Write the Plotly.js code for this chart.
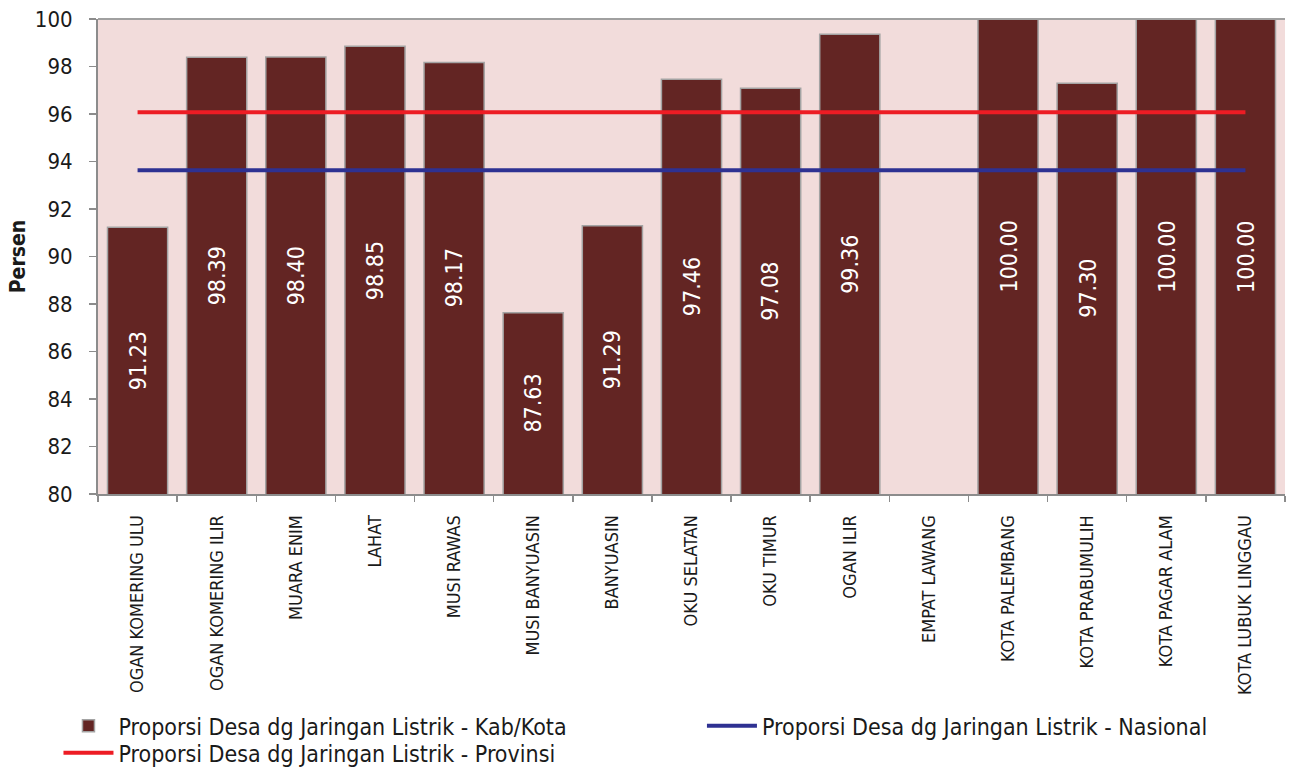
<!DOCTYPE html>
<html>
<head>
<meta charset="utf-8">
<script src="https://cdn.plot.ly/plotly-3.0.1.min.js"></script>
<style>html,body{margin:0;padding:0;background:#fff;}#chart{width:1290px;height:769px;}</style>
</head>
<body>
<div id="chart"></div>
<script>
const categories = ["OGAN KOMERING ULU","OGAN KOMERING ILIR","MUARA ENIM","LAHAT","MUSI RAWAS","MUSI BANYUASIN","BANYUASIN","OKU SELATAN","OKU TIMUR","OGAN ILIR","EMPAT LAWANG","KOTA PALEMBANG","KOTA PRABUMULIH","KOTA PAGAR ALAM","KOTA LUBUK LINGGAU"];
const kabKota = [91.23,98.39,98.40,98.85,98.17,87.63,91.29,97.46,97.08,99.36,null,100.00,97.30,100.00,100.00];
const nasional = [93.63,93.63,93.63,93.63,93.63,93.63,93.63,93.63,93.63,93.63,93.63,93.63,93.63,93.63,93.63];
const provinsi = [96.07,96.07,96.07,96.07,96.07,96.07,96.07,96.07,96.07,96.07,96.07,96.07,96.07,96.07,96.07];
const yTicks = [80,82,84,86,88,90,92,94,96,98,100];
const yMin = 80, yMax = 100;

const FONT = "DejaVu Sans Condensed, DejaVu Sans, sans-serif";

const traces = [
  {
    type: "bar", name: "Proporsi Desa dg Jaringan Listrik - Kab/Kota",
    x: categories, y: kabKota, legend: "legend",
    marker: {color: "#632523", line: {color: "#A3A3A3", width: 1.5}},
    hoverinfo: "skip"
  },
  {
    type: "scatter", mode: "lines", name: "Proporsi Desa dg Jaringan Listrik - Nasional",
    x: categories, y: nasional, legend: "legend2",
    line: {color: "#2E3192", width: 4}, hoverinfo: "skip"
  },
  {
    type: "scatter", mode: "lines", name: "Proporsi Desa dg Jaringan Listrik - Provinsi",
    x: categories, y: provinsi, legend: "legend3",
    line: {color: "#ED1C24", width: 4}, hoverinfo: "skip"
  }
];

// value labels centred in the visible part of each bar
const annotations = [];
categories.forEach((c, i) => {
  const v = kabKota[i];
  if (v === null) return;
  annotations.push({
    x: c, y: (v + yMin) / 2, xref: "x", yref: "y",
    text: v.toFixed(2), showarrow: false, textangle: -90,
    font: {color: "#ffffff", size: 23, family: FONT}
  });
});

const legendCommon = {
  orientation: "v", xanchor: "left", yanchor: "middle",
  font: {size: 23, family: FONT, color: "#1a1a1a"},
  itemwidth: 50, bgcolor: "rgba(0,0,0,0)", borderwidth: 0
};

const layout = {
  width: 1290, height: 769,
  margin: {l: 98, r: 5, t: 19, b: 275, autoexpand: false},
  paper_bgcolor: "#ffffff", plot_bgcolor: "#F2DCDB",
  font: {family: FONT, color: "#1a1a1a"},
  bargap: 0.24,
  showlegend: true,
  legend: Object.assign({}, legendCommon, {x: -0.0333, y: -0.488}),
  legend2: Object.assign({}, legendCommon, {x: 0.5088, y: -0.488}),
  legend3: Object.assign({}, legendCommon, {x: -0.0333, y: -0.545}),
  xaxis: {
    type: "category", tickangle: -90, tickfont: {size: 18, family: FONT, color: "#1a1a1a"},
    showline: true, linecolor: "#8C8C8C", linewidth: 2,
    ticks: "outside", tickson: "boundaries", ticklen: 6, tickcolor: "#8C8C8C", tickwidth: 1.5,
    ticklabelstandoff: 12,
    showgrid: false, zeroline: false, fixedrange: true
  },
  yaxis: {
    range: [yMin, yMax], tickvals: yTicks, ticktext: yTicks.map(String),
    tickfont: {size: 22, family: FONT, color: "#1a1a1a"},
    showline: true, linecolor: "#8C8C8C", linewidth: 2,
    ticks: "outside", ticklen: 7, tickcolor: "#8C8C8C", tickwidth: 1.5,
    ticklabelstandoff: 12,
    showgrid: false, zeroline: false, fixedrange: true,
    title: {text: "<b>Persen</b>", font: {size: 21, family: FONT, color: "#1a1a1a"}, standoff: 3}
  },
  annotations: annotations,
  shapes: [
    {type: "line", xref: "paper", yref: "paper", x0: 0, x1: 1, y0: 1, y1: 1, line: {color: "#A0A0A0", width: 2}}
  ]
};

Plotly.newPlot("chart", traces, layout, {displayModeBar: false, staticPlot: true});
</script>
</body>
</html>
